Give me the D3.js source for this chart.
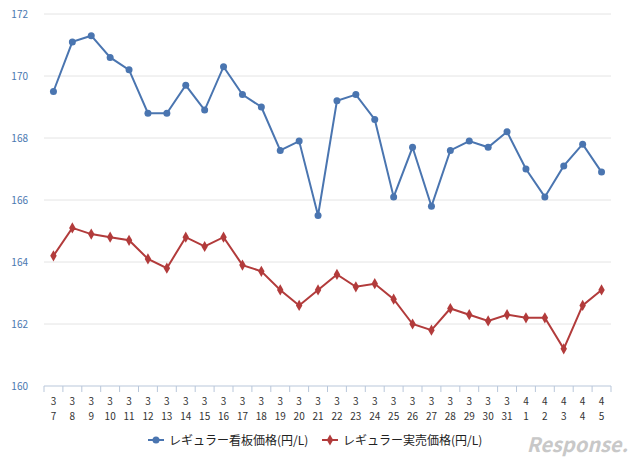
<!DOCTYPE html><html><head><meta charset="utf-8"><script src="https://cdn.jsdelivr.net/npm/d3@7"></script>
<style>body{margin:0;background:#fff}text{font-family:"Noto Sans CJK JP",sans-serif}</style></head><body><svg width="640" height="466"></svg><script>
const months=[3,3,3,3,3,3,3,3,3,3,3,3,3,3,3,3,3,3,3,3,3,3,3,3,3,4,4,4,4,4];
const days=[7,8,9,10,11,12,13,14,15,16,17,18,19,20,21,22,23,24,25,26,27,28,29,30,31,1,2,3,4,5];
const blue=[169.5,171.1,171.3,170.6,170.2,168.8,168.8,169.7,168.9,170.3,169.4,169.0,167.6,167.9,165.5,169.2,169.4,168.6,166.1,167.7,165.8,167.6,167.9,167.7,168.2,167.0,166.1,167.1,167.8,166.9];
const red=[164.2,165.1,164.9,164.8,164.7,164.1,163.8,164.8,164.5,164.8,163.9,163.7,163.1,162.6,163.1,163.6,163.2,163.3,162.8,162.0,161.8,162.5,162.3,162.1,162.3,162.2,162.2,161.2,162.6,163.1];
const yTicks=[160,162,164,166,168,170,172];
const names=["レギュラー看板価格(円/L)","レギュラー実売価格(円/L)"];
const svg=d3.select("svg");
const idx=d3.range(days.length);
const x=d3.scaleBand().domain(idx).range([44,611]);
const y=d3.scaleLinear().domain([160,172]).range([386,14]);
svg.selectAll(".g").data(yTicks).join("line").attr("x1",44).attr("x2",611).attr("y1",d=>y(d)).attr("y2",d=>y(d)).attr("stroke",d=>d==160?"#b9c7da":"#e4e4e4");
svg.selectAll(".yl").data(yTicks).join("text").attr("x",28).attr("y",d=>y(d)+4).attr("text-anchor","end").attr("font-size",10).attr("fill","#4a78b0").text(d=>d);
const tk=d3.range(days.length+1).map(i=>44+i*x.step());
svg.selectAll(".tk").data(tk).join("line").attr("x1",d=>d).attr("x2",d=>d).attr("y1",386).attr("y2",392).attr("stroke","#b9c7da");
svg.selectAll(".m").data(idx).join("text").attr("x",i=>x(i)+x.bandwidth()/2).attr("y",405).attr("text-anchor","middle").attr("font-size",10).attr("fill","#333").text(i=>months[i]);
svg.selectAll(".d").data(idx).join("text").attr("x",i=>x(i)+x.bandwidth()/2).attr("y",420).attr("text-anchor","middle").attr("font-size",10).attr("fill","#333").text(i=>days[i]);
const cx=i=>x(i)+x.bandwidth()/2;
[[blue,"#4a75b0","c"],[red,"#b23b3b","d"]].forEach(([s,c,t])=>{
 svg.append("path").attr("d",d3.line().x((v,i)=>cx(i)).y(v=>y(v))(s)).attr("fill","none").attr("stroke",c).attr("stroke-width",2);
 if(t=="c")svg.selectAll(null).data(s).join("circle").attr("cx",(v,i)=>cx(i)).attr("cy",v=>y(v)).attr("r",3.5).attr("fill",c);
 else svg.selectAll(null).data(s).join("path").attr("transform",(v,i)=>`translate(${cx(i)},${y(v)})`).attr("d",d3.symbol(d3.symbolDiamond,36)).attr("fill",c);
});
const lg=[[148,"#4a75b0","c"],[322,"#b23b3b","d"]];
lg.forEach(([lx,c,t],k)=>{
 svg.append("line").attr("x1",lx).attr("x2",lx+16).attr("y1",440).attr("y2",440).attr("stroke",c).attr("stroke-width",2);
 if(t=="c")svg.append("circle").attr("cx",lx+8).attr("cy",440).attr("r",3.5).attr("fill",c);
 else svg.append("path").attr("transform",`translate(${lx+8},440)`).attr("d",d3.symbol(d3.symbolDiamond,36)).attr("fill",c);
 svg.append("text").attr("x",lx+21).attr("y",445).attr("font-size",12).attr("fill","#222").text(names[k]);
});
svg.append("text").attr("x",628).attr("y",452).attr("text-anchor","end").attr("font-size",20).attr("font-style","italic").attr("font-weight","bold").attr("fill","#c8c8c8").attr("font-family","Liberation Sans").text("Response.");
</script></body></html>
